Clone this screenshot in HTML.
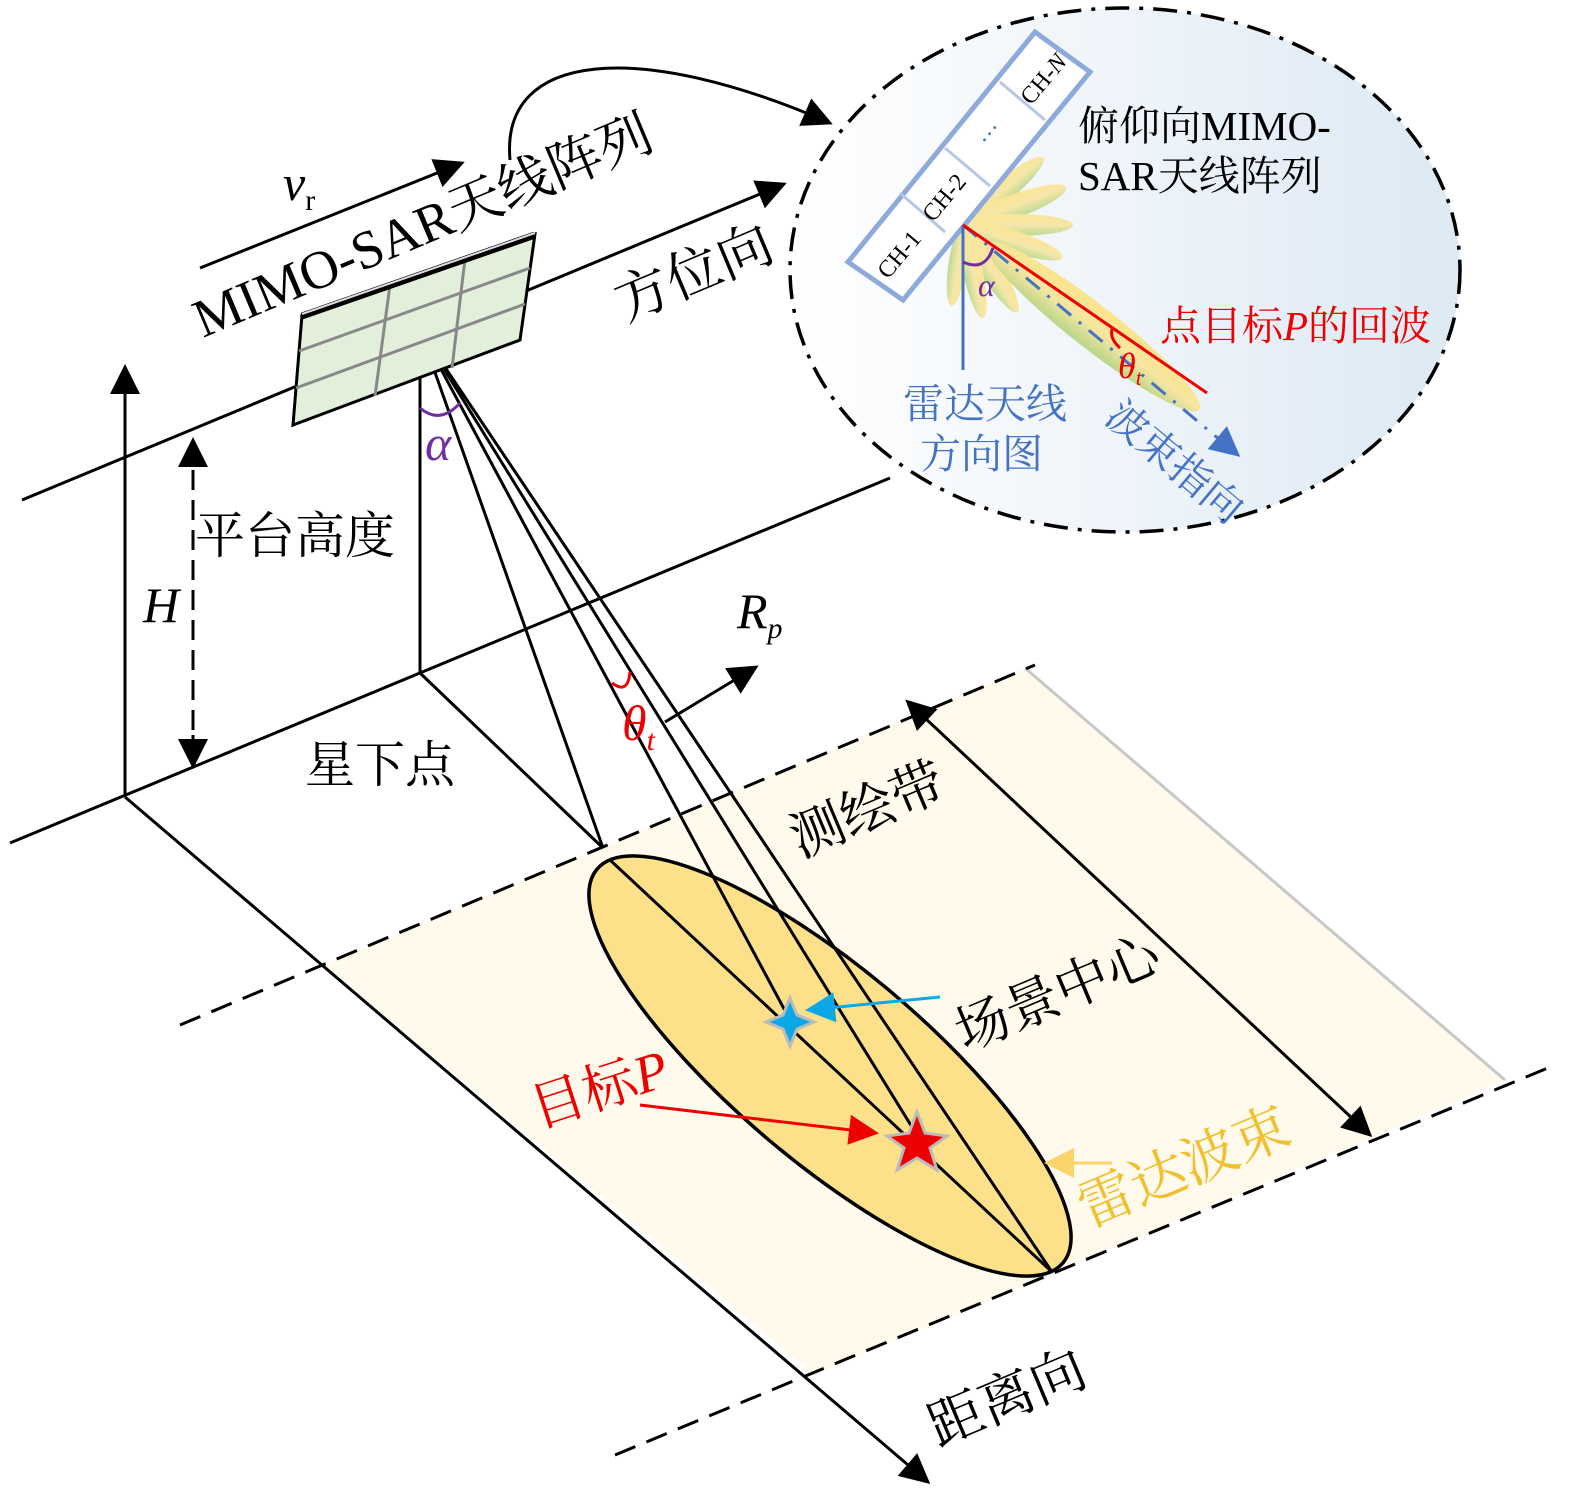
<!DOCTYPE html>
<html><head><meta charset="utf-8"><style>html,body{margin:0;padding:0;background:#fff}svg{display:block}
text{font-family:"Liberation Serif","Noto Serif CJK SC",serif}</style></head><body>
<svg width="1575" height="1496" viewBox="0 0 1575 1496" xmlns="http://www.w3.org/2000/svg">
<defs>
<marker id="a" viewBox="0 0 10 10" refX="9" refY="5" markerWidth="36" markerHeight="30" markerUnits="userSpaceOnUse" orient="auto"><path d="M0,0L10,5L0,10z" fill="#000"/></marker>
<marker id="as" viewBox="0 0 10 10" refX="1" refY="5" markerWidth="36" markerHeight="30" markerUnits="userSpaceOnUse" orient="auto-start-reverse"><path d="M0,0L10,5L0,10z" fill="#000"/></marker>
<marker id="ar" viewBox="0 0 10 10" refX="9" refY="5" markerWidth="34" markerHeight="30" markerUnits="userSpaceOnUse" orient="auto"><path d="M0,0L10,5L0,10z" fill="#e00"/></marker>
<marker id="ac" viewBox="0 0 10 10" refX="9" refY="5" markerWidth="34" markerHeight="30" markerUnits="userSpaceOnUse" orient="auto"><path d="M0,0L10,5L0,10z" fill="#0aa8e6"/></marker>
<marker id="ay" viewBox="0 0 10 10" refX="9" refY="5" markerWidth="34" markerHeight="30" markerUnits="userSpaceOnUse" orient="auto"><path d="M0,0L10,5L0,10z" fill="#fbd46a"/></marker>
<marker id="abl" viewBox="0 0 10 10" refX="9" refY="5" markerWidth="34" markerHeight="30" markerUnits="userSpaceOnUse" orient="auto"><path d="M0,0L10,5L0,10z" fill="#4472c4"/></marker>
<linearGradient id="cg" x1="0" y1="0" x2="1" y2="0"><stop offset="0" stop-color="#ffffff"/><stop offset="1" stop-color="#dde9f4"/></linearGradient>
<linearGradient id="lg" x1="0" y1="0" x2="0" y2="1"><stop offset="0" stop-color="#fbe48a"/><stop offset="0.5" stop-color="#f7e6a0"/><stop offset="1" stop-color="#b6d68a"/></linearGradient>
</defs>

<polygon points="325,965 1025,668 1505,1080 815,1375" fill="#fffaec"/>
<line x1="1025" y1="668" x2="1505" y2="1080" stroke="#c8c8c8" stroke-width="3"/>
<line x1="180" y1="1025" x2="1035" y2="665" stroke="#000" stroke-width="3" stroke-dasharray="22,12"/>
<line x1="615" y1="1455" x2="1555" y2="1065" stroke="#000" stroke-width="3" stroke-dasharray="22,12"/>

<g stroke="#000" stroke-width="3" fill="none">
<line x1="22" y1="500" x2="784" y2="184" marker-end="url(#a)"/>
<line x1="10" y1="843" x2="890" y2="478"/>
<line x1="125" y1="797" x2="125" y2="367" marker-end="url(#a)"/>
<line x1="125" y1="797" x2="928" y2="1482" marker-end="url(#a)"/>
<line x1="420" y1="330" x2="420" y2="673"/>
<line x1="420" y1="673" x2="603" y2="848"/>
<line x1="200" y1="268" x2="462" y2="163" marker-end="url(#a)"/>
<path d="M510,160 C500,50 640,40 830,123" marker-end="url(#a)"/>
<line x1="193" y1="470" x2="193" y2="735" stroke-dasharray="20,10"/>
<line x1="193" y1="465" x2="193" y2="440" marker-end="url(#a)"/>
<line x1="193" y1="735" x2="193" y2="766" marker-end="url(#a)"/>
<line x1="925" y1="718" x2="1370" y2="1135" marker-start="url(#as)" marker-end="url(#a)"/>
<line x1="665" y1="722" x2="756" y2="667" marker-end="url(#a)"/>
</g>

<ellipse cx="830" cy="1066" rx="305" ry="96" transform="rotate(40.2 830 1066)" fill="#fde08a" stroke="#000" stroke-width="3.5"/>
<g stroke="#000" stroke-width="3">
<line x1="420" y1="330" x2="603" y2="848"/>
<line x1="420" y1="330" x2="790" y2="1020"/>
<line x1="420" y1="330" x2="920" y2="1140"/>
<line x1="420" y1="330" x2="1052" y2="1272"/>
<line x1="610" y1="860" x2="1052" y2="1272"/>
</g>
<path d="M612,683 Q628,695 630,672" fill="none" stroke="#e00" stroke-width="3"/>
<path d="M420,408 Q440,425 460,403" fill="none" stroke="#7030a0" stroke-width="3"/>

<path d="M790,998 L797,1015 L814,1022 L797,1029 L790,1046 L783,1029 L766,1022 L783,1015Z" fill="#0aa8e6" stroke="#bbb" stroke-width="3"/>
<path d="M917,1112 L925,1133 L947,1136 L930,1148 L937,1170 L917,1158 L897,1170 L904,1148 L887,1136 L909,1133Z" fill="#e00" stroke="#bbb" stroke-width="3"/>

<line x1="940" y1="997" x2="808" y2="1010" stroke="#0aa8e6" stroke-width="3" marker-end="url(#ac)"/>
<line x1="640" y1="1105" x2="876" y2="1133" stroke="#e00" stroke-width="3" marker-end="url(#ar)"/>
<line x1="1112" y1="1163" x2="1047" y2="1163" stroke="#fbd46a" stroke-width="3" marker-end="url(#ay)"/>

<polygon points="302,315 535,234 520,340 293,425" fill="#e2efda" stroke="#000" stroke-width="3"/>
<g stroke="#888" stroke-width="3">
<line x1="299" y1="351" x2="530" y2="268"/><line x1="296" y1="388" x2="525" y2="304"/>
<line x1="390" y1="285" x2="375" y2="396"/><line x1="465" y1="259" x2="452" y2="368"/>
</g>
<line x1="302" y1="316" x2="535" y2="235" stroke="#000" stroke-width="7"/>
<line x1="302" y1="314" x2="535" y2="233" stroke="#ddd" stroke-width="2"/>

<ellipse cx="1125" cy="270" rx="335" ry="262" fill="url(#cg)" stroke="#000" stroke-width="3.5" stroke-dasharray="24,10,4,10"/>
<g transform="translate(963,225)">
<g fill="url(#lg)" opacity="0.9">
<ellipse cx="50" cy="0" rx="55" ry="11" transform="rotate(-40)"/>
<ellipse cx="52" cy="0" rx="58" ry="12" transform="rotate(-20)"/>
<ellipse cx="52" cy="0" rx="58" ry="11" transform="rotate(0)"/>
<ellipse cx="50" cy="0" rx="55" ry="11" transform="rotate(18)"/>
<ellipse cx="48" cy="0" rx="55" ry="11" transform="rotate(58)"/>
<ellipse cx="45" cy="0" rx="50" ry="10" transform="rotate(78)"/>
<ellipse cx="40" cy="0" rx="42" ry="9" transform="rotate(98)"/>
</g>
<ellipse cx="165" cy="0" rx="135" ry="22" transform="rotate(38)" fill="url(#lg)"/>
</g>
<polygon points="848,262 1035,32 1090,72 903,300" fill="#fff" stroke="#8eaadb" stroke-width="5"/>
<g stroke="#b4c7e7" stroke-width="3">
<line x1="900" y1="193" x2="945" y2="232"/><line x1="945" y1="148" x2="990" y2="186"/><line x1="1000" y1="82" x2="1045" y2="120"/>
</g>
<text font-size="24" transform="translate(888,280) rotate(-50)">CH-1</text>
<text font-size="24" transform="translate(933,223) rotate(-50)">CH-2</text>
<text font-size="24" fill="#4472c4" transform="translate(988,148) rotate(-50)">···</text>
<text font-size="24" transform="translate(1031,106) rotate(-50)">CH-<tspan font-style="italic">N</tspan></text>
<line x1="963" y1="225" x2="963" y2="370" stroke="#4472c4" stroke-width="3"/>
<line x1="963" y1="225" x2="1238" y2="455" stroke="#4472c4" stroke-width="3" stroke-dasharray="18,10,3,10" marker-end="url(#abl)"/>
<line x1="963" y1="225" x2="1207" y2="393" stroke="#e00" stroke-width="3"/>
<path d="M963,262 Q985,272 993,248" fill="none" stroke="#7030a0" stroke-width="3"/>
<path d="M1113,327 Q1108,337 1120,348" fill="none" stroke="#e00" stroke-width="3"/>

<g font-size="50">
<text font-size="54" transform="translate(203,338) rotate(-22.8)">MIMO-SAR天线阵列</text>
<text font-size="55" transform="translate(625,322) rotate(-22.8)">方位向</text>
<text x="195" y="553">平台高度</text>
<text x="305" y="782">星下点</text>
<text font-size="54" transform="translate(800,858) rotate(-22.8)">测绘带</text>
<text font-size="54" transform="translate(965,1052) rotate(-22.8)">场景中心</text>
<text fill="#e00" font-size="54" transform="translate(538,1128) rotate(-18)">目标<tspan font-style="italic">P</tspan></text>
<text fill="#f0c030" font-size="56" transform="translate(1088,1228) rotate(-22.8)">雷达波束</text>
<text font-size="55" transform="translate(938,1447) rotate(-22.8)">距离向</text>
<text x="143" y="622" font-style="italic">H</text>
<text x="425" y="460" fill="#7030a0" font-style="italic">α</text>
<text x="737" y="628" font-style="italic">R<tspan font-size="30" dy="10">p</tspan></text>
<text x="622" y="740" fill="#e00" font-style="italic">θ<tspan font-size="30" dy="10">t</tspan></text>
<text x="283" y="200" font-style="italic">v<tspan font-size="30" font-style="normal" dy="10">r</tspan></text>
</g>
<g font-size="41">
<text x="1078" y="140">俯仰向MIMO-</text>
<text x="1078" y="190">SAR天线阵列</text>
<text x="1160" y="340" fill="#e00">点目标<tspan font-style="italic">P</tspan>的回波</text>
<text x="903" y="418" fill="#4472c4">雷达天线</text>
<text x="920" y="468" fill="#4472c4">方向图</text>
<text fill="#4472c4" transform="translate(1103,420) rotate(40)">波束指向</text>
<text x="978" y="296" fill="#7030a0" font-style="italic" font-size="32">α</text>
<text x="1118" y="378" fill="#e00" font-style="italic" font-size="36">θ<tspan font-size="22" dy="7">t</tspan></text>
</g>
</svg>
</body></html>
